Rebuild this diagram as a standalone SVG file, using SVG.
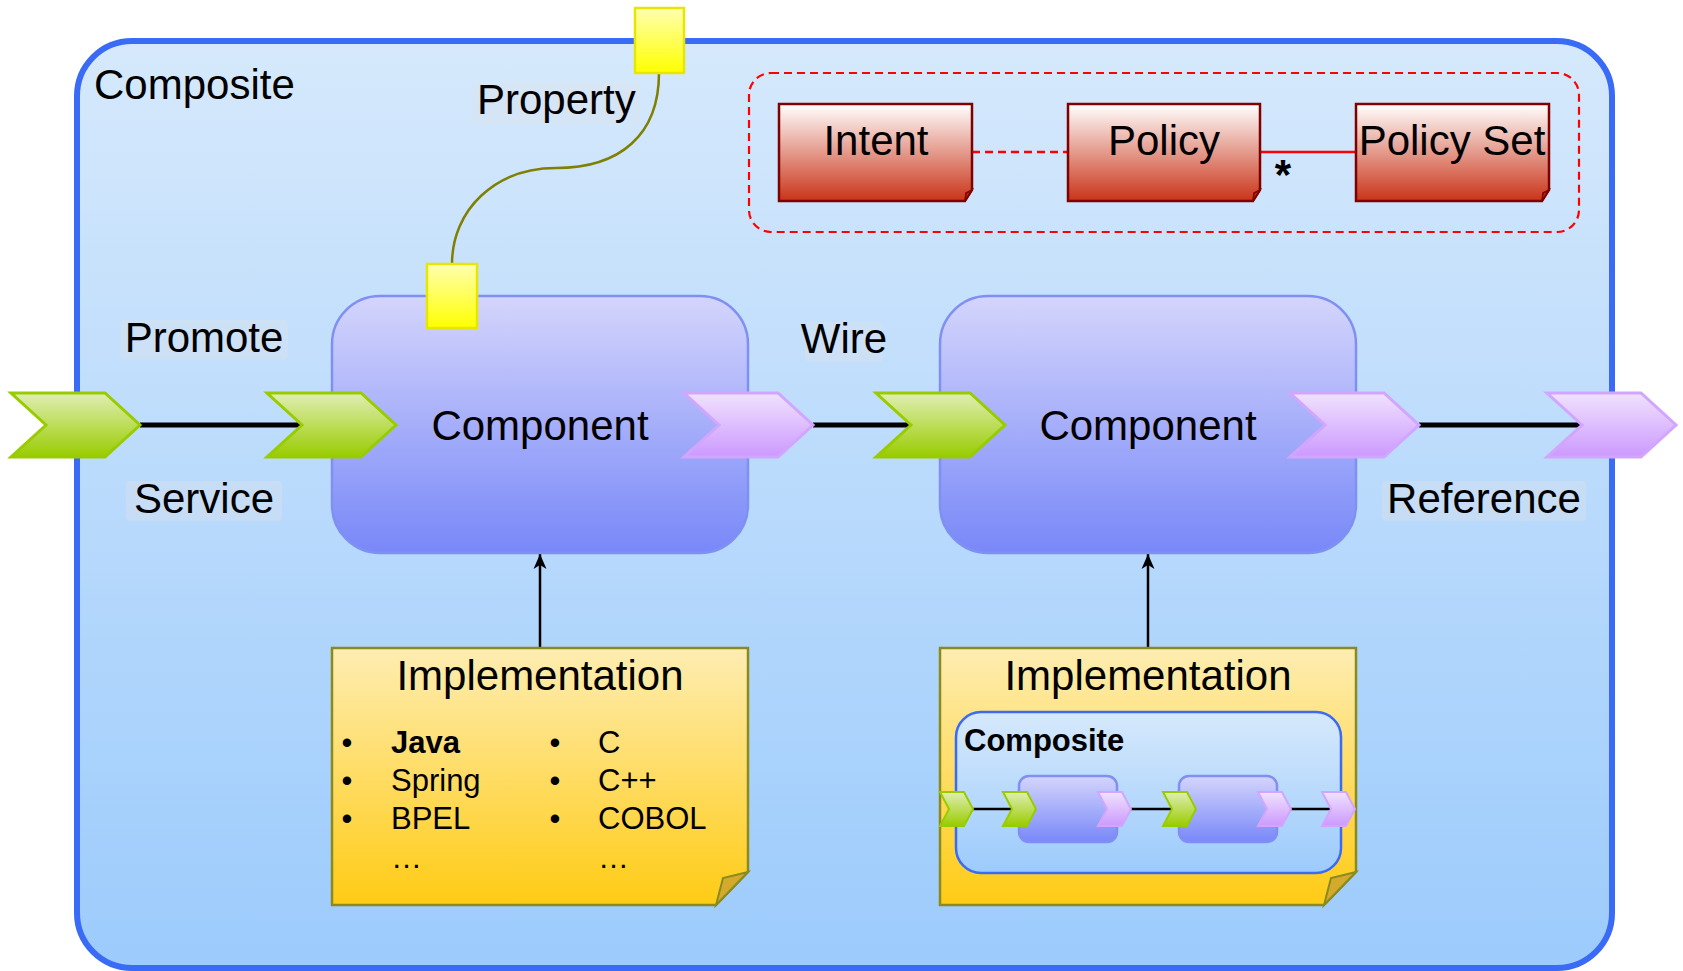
<svg xmlns="http://www.w3.org/2000/svg" width="1683" height="971" viewBox="0 0 1683 971">
<defs>
<linearGradient id="gComp" x1="0" y1="0" x2="0" y2="1"><stop offset="0" stop-color="#d6e9fc"/><stop offset="1" stop-color="#9ccbfc"/></linearGradient>
<linearGradient id="gCmp" x1="0" y1="0" x2="0" y2="1"><stop offset="0" stop-color="#d4d5fc"/><stop offset="1" stop-color="#7888f8"/></linearGradient>
<linearGradient id="gGreen" x1="0" y1="0" x2="0" y2="1"><stop offset="0" stop-color="#e0eeb4"/><stop offset="1" stop-color="#99cc00"/></linearGradient>
<linearGradient id="gPurple" x1="0" y1="0" x2="0" y2="1"><stop offset="0" stop-color="#f0e2fd"/><stop offset="1" stop-color="#cc99ff"/></linearGradient>
<linearGradient id="gYellow" x1="0" y1="0" x2="0" y2="1"><stop offset="0" stop-color="#ffffb0"/><stop offset="1" stop-color="#ffff00"/></linearGradient>
<linearGradient id="gImpl" x1="0" y1="0" x2="0" y2="1"><stop offset="0" stop-color="#feedb2"/><stop offset="1" stop-color="#ffcb14"/></linearGradient>
<linearGradient id="gRed" x1="0" y1="0" x2="0" y2="1"><stop offset="0" stop-color="#ffffff"/><stop offset="1" stop-color="#c93418"/></linearGradient>
<path id="chevG" d="M0,0 H94 L129,32 L94,64 H0 L35,32 Z" fill="url(#gGreen)" stroke="#99cc00" stroke-width="3"/>
<path id="chevP" d="M0,0 H94 L129,32 L94,64 H0 L35,32 Z" fill="url(#gPurple)" stroke="#d2a6ff" stroke-width="3"/>
<path id="mchevG" d="M0,0 H24 L33,17 L24,34 H0 L9,17 Z" fill="url(#gGreen)" stroke="#99cc00" stroke-width="2"/>
<path id="mchevP" d="M0,0 H24 L33,17 L24,34 H0 L9,17 Z" fill="url(#gPurple)" stroke="#d2a6ff" stroke-width="2"/>
<marker id="arr" viewBox="0 -8 16 16" refX="15" refY="0" markerWidth="16" markerHeight="16" markerUnits="userSpaceOnUse" orient="auto">
<path d="M0,-6.5 L15,0 L0,6.5 L4,0 Z" fill="#000"/>
</marker>
</defs>
<style>
text{font-family:"Liberation Sans",Arial,sans-serif;fill:#000}
.big{font-size:42px}
.mid{font-size:31px}
.lbg{fill:#dfe3e8;opacity:0.35}
.cmp{fill:url(#gCmp);stroke:#7f90f2;stroke-width:2.5}
.yel{fill:url(#gYellow);stroke:#e6e600;stroke-width:2.5}
.impl{fill:url(#gImpl);stroke:#8a8a1e;stroke-width:2.5}
.fold{fill:#d4aa2c;stroke:#8a8a1e;stroke-width:2}
.pol{fill:url(#gRed);stroke:#800000;stroke-width:2.5}
.pfold{fill:#b02a10;stroke:#800000;stroke-width:1.5}
</style>

<g id="composite">
<rect x="77" y="41" width="1535" height="927" rx="55" fill="url(#gComp)" stroke="#3a6bf6" stroke-width="6"/>
<text class="big" x="94" y="99">Composite</text>
</g>

<g id="labels">
<rect class="lbg" x="120" y="320" width="168" height="40" rx="4"/>
<text class="big" x="204" y="352" text-anchor="middle">Promote</text>
<rect class="lbg" x="126" y="481" width="156" height="40" rx="4"/>
<text class="big" x="204" y="513" text-anchor="middle">Service</text>
<rect class="lbg" x="805" y="322" width="78" height="40" rx="4"/>
<text class="big" x="844" y="353" text-anchor="middle">Wire</text>
<rect class="lbg" x="1382" y="481" width="204" height="40" rx="4"/>
<text class="big" x="1484" y="513" text-anchor="middle">Reference</text>
<rect class="lbg" x="472" y="82" width="168" height="42" rx="4"/>
<text class="big" x="477" y="114">Property</text>
</g>

<g id="policy-group">
<rect x="749" y="73" width="830" height="159" rx="22" fill="none" stroke="#ff0000" stroke-width="2.2" stroke-dasharray="8,5"/>
</g>

<g id="connectors" fill="none">
<path d="M659,73 C659,135 620,168 556,168 C495,168 452,210 452,264" stroke="#7f7f00" stroke-width="2.5"/>
<line x1="140" y1="425" x2="302" y2="425" stroke="#000" stroke-width="5"/>
<line x1="813" y1="425" x2="911" y2="425" stroke="#000" stroke-width="5"/>
<line x1="1419" y1="425" x2="1582" y2="425" stroke="#000" stroke-width="5"/>
<line x1="540" y1="648" x2="540" y2="554" stroke="#000" stroke-width="2.5" marker-end="url(#arr)"/>
<line x1="1148" y1="648" x2="1148" y2="554" stroke="#000" stroke-width="2.5" marker-end="url(#arr)"/>
<line x1="972" y1="152" x2="1068" y2="152" stroke="#ff0000" stroke-width="2.5" stroke-dasharray="8,5"/>
<line x1="1260" y1="152" x2="1356" y2="152" stroke="#ff0000" stroke-width="2.5"/>
</g>
<text x="1283" y="189" font-size="42" font-weight="bold" text-anchor="middle">*</text>

<g id="component1">
<rect class="cmp" x="332" y="296" width="416" height="257" rx="48"/>
<text class="big" x="540" y="440" text-anchor="middle">Component</text>
</g>
<g id="component2">
<rect class="cmp" x="940" y="296" width="416" height="257" rx="48"/>
<text class="big" x="1148" y="440" text-anchor="middle">Component</text>
</g>

<g id="property-top"><rect class="yel" x="635" y="8" width="49" height="65"/></g>
<g id="property-comp"><rect class="yel" x="427" y="264" width="50" height="64"/></g>

<g id="service-promoted"><use href="#chevG" x="11" y="393"/></g>
<g id="service1"><use href="#chevG" x="267" y="393"/></g>
<g id="reference1"><use href="#chevP" x="684" y="393"/></g>
<g id="service2"><use href="#chevG" x="876" y="393"/></g>
<g id="reference2"><use href="#chevP" x="1290" y="393"/></g>
<g id="reference-promoted"><use href="#chevP" x="1547" y="393"/></g>

<g id="implementation1">
<path class="impl" d="M332,648 H748 V872 L716,905 H332 Z"/>
<path class="fold" d="M748,872 L723,878 L716,905 Z"/>
<text class="big" x="540" y="690" text-anchor="middle">Implementation</text>
<g class="mid">
<text x="347" y="753" text-anchor="middle">•</text><text x="391" y="753" font-weight="bold">Java</text>
<text x="347" y="791" text-anchor="middle">•</text><text x="391" y="791">Spring</text>
<text x="347" y="829" text-anchor="middle">•</text><text x="391" y="829">BPEL</text>
<text x="391" y="868">…</text>
<text x="555" y="753" text-anchor="middle">•</text><text x="598" y="753">C</text>
<text x="555" y="791" text-anchor="middle">•</text><text x="598" y="791">C++</text>
<text x="555" y="829" text-anchor="middle">•</text><text x="598" y="829">COBOL</text>
<text x="598" y="868">…</text>
</g>
</g>

<g id="implementation2">
<path class="impl" d="M940,648 H1356 V872 L1324,905 H940 Z"/>
<path class="fold" d="M1356,872 L1331,878 L1324,905 Z"/>
<text class="big" x="1148" y="690" text-anchor="middle">Implementation</text>
<rect x="956" y="712" width="385" height="161" rx="25" fill="url(#gComp)" stroke="#3a6bf6" stroke-width="2.5"/>
<text class="mid" x="964" y="751" font-weight="bold">Composite</text>
<rect class="cmp" x="1019" y="776" width="98" height="66" rx="10" stroke-width="2"/>
<rect class="cmp" x="1179" y="776" width="98" height="66" rx="10" stroke-width="2"/>
<line x1="973" y1="809" x2="1012" y2="809" stroke="#000" stroke-width="2.5"/>
<line x1="1131" y1="809" x2="1172" y2="809" stroke="#000" stroke-width="2.5"/>
<line x1="1291" y1="809" x2="1331" y2="809" stroke="#000" stroke-width="2.5"/>
<use href="#mchevG" x="940" y="792"/>
<use href="#mchevG" x="1003" y="792"/>
<use href="#mchevP" x="1098" y="792"/>
<use href="#mchevG" x="1163" y="792"/>
<use href="#mchevP" x="1258" y="792"/>
<use href="#mchevP" x="1322" y="792"/>
</g>

<g id="intent">
<path class="pol" d="M779,104 H972 V190 L965,201 H779 Z"/>
<path class="pfold" d="M972,190 L966,193 L965,201 Z"/>
<text class="big" x="876" y="155" text-anchor="middle">Intent</text>
</g>
<g id="policy">
<path class="pol" d="M1068,104 H1260 V190 L1253,201 H1068 Z"/>
<path class="pfold" d="M1260,190 L1254,193 L1253,201 Z"/>
<text class="big" x="1164" y="155" text-anchor="middle">Policy</text>
</g>
<g id="policy-set">
<path class="pol" d="M1356,104 H1549 V190 L1542,201 H1356 Z"/>
<path class="pfold" d="M1549,190 L1543,193 L1542,201 Z"/>
<text class="big" x="1452" y="155" text-anchor="middle">Policy Set</text>
</g>
</svg>
